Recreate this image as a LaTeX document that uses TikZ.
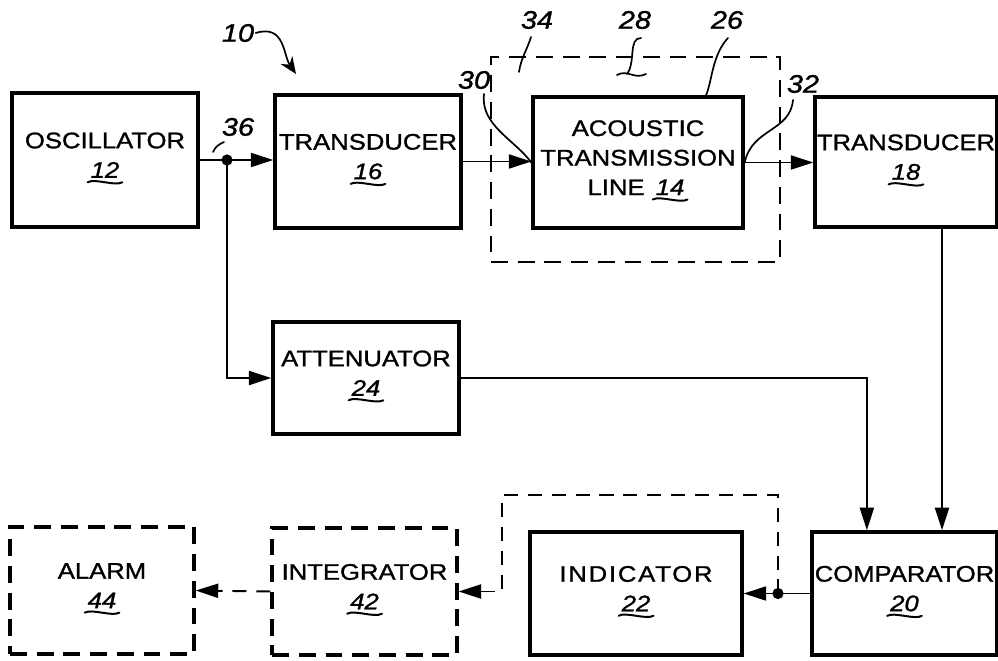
\documentclass[tikz,border=0pt]{standalone}
\usepackage{fontspec}
\setmainfont{Liberation Sans}[FakeStretch=1.14, FakeBold=1.2]
\usetikzlibrary{arrows.meta, positioning, calc}

\tikzset{
  block/.style={
    rectangle, draw=black, line width=2.4pt,
    inner sep=0pt, align=center,
    font=\fontsize{16}{21}\selectfont
  },
  dblock/.style={block, dash pattern=on 12pt off 7pt},
  frame/.style={rectangle, draw=black, line width=1.5pt, inner sep=0pt,
    dash pattern=on 12pt off 7pt},
  arr/.style={-{Triangle[length=16pt,width=10pt]}, line width=1.4pt},
  darr/.style={arr, dash pattern=on 10pt off 7pt},
  dot/.style={circle, fill=black, inner sep=0pt, minimum size=8pt},
  tag/.style={font=\fontsize{18}{20}\selectfont\itshape, inner sep=1pt},
  lead/.style={line width=1.2pt, line cap=round}
}

% reference number with a wavy underline
\newcommand{\refno}[1]{\tikz[baseline=(r.base)]{%
  \node[rectangle, draw=none, inner sep=0pt, minimum size=0pt, font=\itshape] (r) {#1};
  \draw[solid, line width=1.4pt, line cap=round]
    ([xshift=-2pt,yshift=-3pt]r.south west) .. controls +(5pt,3pt) and +(-5pt,-3pt)
    .. ([xshift=2pt,yshift=-3pt]r.south east);}}

\begin{document}
\begin{tikzpicture}[x=0.025cm, y=-0.025cm]
  \useasboundingbox (0,0) rectangle (998,661);

  % Signal path
  \node[block, minimum width=4.65cm, minimum height=3.35cm] (osc) at (105,160)
       {OSCILLATOR\\\refno{12}};
  \node[block, minimum width=4.65cm, minimum height=3.33cm] (td16) at (368,161.5)
       {TRANSDUCER\\\refno{16}};
  \node[frame, minimum width=7.225cm, minimum height=5.125cm] (encl) at (635.5,159.5) {};
  \node[block, minimum width=5.25cm, minimum height=3.28cm] (acl) at (638,162.5)
       {ACOUSTIC\\TRANSMISSION\\LINE \refno{14}};
  \node[block, minimum width=4.55cm, minimum height=3.25cm] (td18) at (906,162)
       {TRANSDUCER\\\refno{18}};

  % Reference branch
  \node[block, minimum width=4.65cm, minimum height=2.8cm] (att) at (366,378)
       {ATTENUATOR\\\refno{24}};

  % Output row
  \node[block, minimum width=4.62cm, minimum height=3.08cm] (cmp) at (904.5,593.5)
       {COMPARATOR\\\refno{20}};
  \node[block, minimum width=5.3cm, minimum height=3.08cm] (ind) at (636,593.5)
       {{\addfontfeatures{LetterSpace=8}INDICATOR}\\\refno{22}};
  \node[dblock, minimum width=4.62cm, minimum height=3.18cm] (intg) at (364.5,591.5)
       {INTEGRATOR\\\refno{42}};
  \node[dblock, minimum width=4.6cm, minimum height=3.18cm] (alm) at (102,590.5)
       {ALARM\\\refno{44}};

  % Connectors
  \node[dot] (j36) at (227,160) {};
  \draw[arr] (osc.east) -- (td16.west |- osc.east);
  \draw[arr] (j36.center) |- (att.west);
  \draw[arr] (td16.east) -- (acl.west |- td16.east);
  \draw[arr] (acl.east) -- (td18.west |- acl.east);
  \draw[arr] (att.east) -| ([xshift=-0.94cm]cmp.north);
  \draw[arr] ([xshift=0.9cm]td18.south) -- ([xshift=0.9cm]td18.south |- cmp.north);
  \draw[arr] (cmp.west) -- (ind.east);
  \node[dot] (j20) at (778,593.5) {};
  \coordinate (fb1) at (778,495);
  \coordinate (fb2) at (502,495);
  \draw[darr] (j20.center) -- (fb1) -- (fb2) |- (intg.east);
  \draw[darr] (intg.west) -- (alm.east);

  % Reference numerals and leaders
  \node[tag] (n10) at (238,33) {10};
  \coordinate (p10) at (296,74);
  \draw[lead, -{Stealth[length=12pt,width=10pt]}] (n10.east) .. controls (285,24) and (283,55) .. (p10);

  \node[tag] (n36) at (238,127) {36};
  \draw[lead] (224,142) .. controls (218,145) and (216,146) .. (213,152);

  \node[tag] (n30) at (474,80) {30};
  \draw[lead] (484,94) .. controls (480,125) and (515,140) .. (acl.west);

  \node[tag] (n34) at (537,20) {34};
  \draw[lead] (531,37) .. controls (527,50) and (521,58) .. (519,72);

  \node[tag] (n28) at (635,20) {28};
  \draw[lead] (641,38) .. controls (628,38) and (636,62) .. (627,74);
  \draw[lead] (617,75) .. controls (628,69) and (634,80) .. (646,74);

  \node[tag] (n26) at (727,20) {26};
  \draw[lead] (728,38) .. controls (712,55) and (712,82) .. ([xshift=1.7cm]acl.north);

  \node[tag] (n32) at (803,84) {32};
  \draw[lead] (793,100) .. controls (790,132) and (752,128) .. (acl.east);
\end{tikzpicture}
\end{document}
